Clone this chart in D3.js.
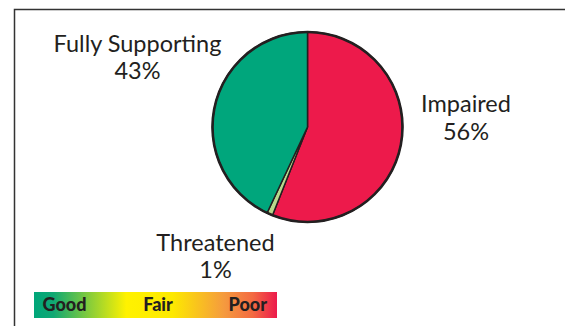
<!DOCTYPE html>
<html><head><meta charset="utf-8">
<script src="https://cdn.jsdelivr.net/npm/d3@7"></script>
<style>html,body{margin:0;padding:0;background:#fff;}svg{display:block;}</style>
</head><body>
<script>
const categories = ["Impaired", "Threatened", "Fully Supporting"];
const values = [56, 1, 43];
const labels = ["56%", "1%", "43%"];
const colors = ["#ed1a4b", "#b8da8c", "#00a67c"];
const legendLabels = ["Good", "Fair", "Poor"];

const W = 565, H = 326;
const svg = d3.select("body").append("svg").attr("width", W).attr("height", H);

// frame
svg.append("path").attr("d", `M14.5,${H} V9.5 H${W}`).attr("fill","none").attr("stroke","#333").attr("stroke-width",1.5);

const cx = 307.5, cy = 127, r = 95;
const pie = d3.pie().sort(null).value(d => d)(values);
const arc = d3.arc().innerRadius(0).outerRadius(r);
const g = svg.append("g").attr("transform", `translate(${cx},${cy})`);
g.selectAll("path").data(pie).join("path")
  .attr("d", arc).attr("fill", (d,i) => colors[i])
  .attr("stroke", "#231f20").attr("stroke-width", 1.5).attr("stroke-linejoin","round");
g.append("circle").attr("r", r).attr("fill","none").attr("stroke","#231f20").attr("stroke-width",2.6);

const font = "Lato, 'Open Sans', sans-serif";
const labelPos = [[466, 112, 139.5], [215.5, 250.5, 278], [137.5, 51.5, 79]];
categories.forEach((c, i) => {
  const [x, y1, y2] = labelPos[i];
  svg.append("text").attr("text-anchor","middle").attr("font-family", font)
    .attr("font-size", 23.5).attr("fill","#231f20").attr("x", x).attr("y", y1).text(c);
  svg.append("text").attr("text-anchor","middle").attr("font-family", font)
    .attr("font-size", 23.5).attr("fill","#231f20").attr("x", x).attr("y", y2).text(labels[i]);
});

// legend gradient bar
const defs = svg.append("defs");
const grad = defs.append("linearGradient").attr("id","qual");
[[0,"#00a67a"],[0.08,"#10a873"],[0.38,"#fff200"],[0.57,"#fde900"],[0.78,"#f59b3e"],[0.9,"#f36a42"],[1,"#ec1a4c"]]
  .forEach(([o,c]) => grad.append("stop").attr("offset", o).attr("stop-color", c));
const lx = 34, lw = 243, ly = 292, lh = 26;
svg.append("rect").attr("x", lx).attr("y", ly).attr("width", lw).attr("height", lh).attr("fill","url(#qual)");
const anchors = ["start","middle","end"];
const lxs = [42.5, 158, 267];
legendLabels.forEach((t,i) => {
  svg.append("text").attr("x", lxs[i]).attr("y", 311).attr("text-anchor", anchors[i])
    .attr("font-family", font).attr("font-weight", 900).attr("font-size", 18).attr("fill","#231f20").text(t);
});
</script>
</body></html>
